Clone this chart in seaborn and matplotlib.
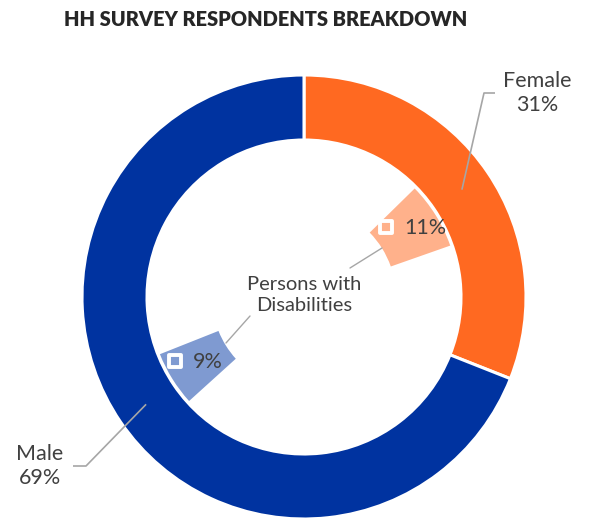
import numpy as np
import matplotlib
matplotlib.use("Agg")
import matplotlib.pyplot as plt
import seaborn as sns

# Respondent shares (outer ring) and persons-with-disabilities shares (inner wedges)
groups = ["Female", "Male"]
group_pct = [31, 69]
pwd_labels = ["11%", "9%"]
pwd_pct = [11, 9]
pwd_gaps = [20, 69, 49]          # unfilled spacing around the inner wedges

title = "HH SURVEY RESPONDENTS BREAKDOWN"
center_label = "Persons with\nDisabilities"

group_colors = ["#FF6921", "#0033A0"]
pwd_colors = ["#FFB18B", "#7F9AD1"]
text_color = "#404040"
line_color = "#A6A6A6"

sns.set_theme(style="white")
plt.rcParams["font.family"] = ["Lato", "DejaVu Sans"]

W, H = 592, 518
fig = plt.figure(figsize=(W / 100, H / 100), dpi=100)
ax = fig.add_axes([0, 0, 1, 1])

cx, cy = 304, H - 297
R = 222
ring_w = 65

# Outer ring
wedges, _ = ax.pie(group_pct, colors=group_colors, startangle=90, counterclock=False,
                   radius=R, center=(cx, cy),
                   wedgeprops=dict(width=ring_w, edgecolor="white", linewidth=2.2))

# Inner wedges: spacing slices are left transparent
inner_vals = [pwd_gaps[0], pwd_pct[0], pwd_gaps[1], pwd_pct[1], pwd_gaps[2]]
inner_cols = ["none", pwd_colors[0], "none", pwd_colors[1], "none"]
r_in_out = 155
r_in_w = 63
iw, _ = ax.pie(inner_vals, colors=inner_cols, startangle=90, counterclock=False,
               radius=r_in_out, center=(cx, cy),
               wedgeprops=dict(width=r_in_w, linewidth=0))

ax.set_xlim(0, W)
ax.set_ylim(0, H)
ax.set_aspect("equal")
ax.axis("off")

def polar(angle_deg, r):
    a = np.deg2rad(angle_deg)
    return cx + r * np.cos(a), cy + r * np.sin(a)

# Outer labels with elbow leader lines
fs = 15.5
mid_f = (wedges[0].theta1 + wedges[0].theta2) / 2
mid_m = (wedges[1].theta1 + wedges[1].theta2) / 2
ex, ey = polar(mid_f, 0.86 * R)
ax.plot([495, 484, ex], [H - 93, H - 93, ey], color=line_color, lw=1.2, solid_capstyle="butt")
ax.text(537, H - 93, f"{groups[0]}\n{group_pct[0]}%", ha="center", va="center",
        fontsize=fs, color=text_color, linespacing=1.25)
ex, ey = polar(mid_m, 0.86 * R)
ax.plot([73, 86, ex], [H - 466, H - 466, ey], color=line_color, lw=1.2, solid_capstyle="butt")
ax.text(40, H - 466, f"{groups[1]}\n{group_pct[1]}%", ha="center", va="center",
        fontsize=fs, color=text_color, linespacing=1.25)

# Centre label
ax.text(cx, cy + 2, center_label, ha="center", va="center", fontsize=fs - 1,
        color=text_color, linespacing=1.3)

# Inner wedge labels with square keys
for w, lab, col, (dx, dy), (l0, l1) in zip(
        [iw[1], iw[3]], pwd_labels, pwd_colors,
        [(-23, 5), (-24, 1)],
        [((382, 248), (350, 268)), ((250, 316), (226, 343))]):
    mid = (w.theta1 + w.theta2) / 2
    mx, my = polar(mid, r_in_out - r_in_w / 2)
    sx, sy = mx + dx, my + dy
    ax.plot([l0[0], l1[0]], [H - l0[1], H - l1[1]], color=line_color, lw=1.0)
    ax.scatter([sx], [sy], marker="s", s=80, facecolor=col, edgecolor="white",
               linewidths=2.8, zorder=5)
    ax.text(sx + 18, sy - 1, lab, ha="left", va="center", fontsize=fs, color=text_color)

fig.text(266 / W, 1 - 19 / H, title, ha="center", va="center", fontsize=14.4,
         fontweight="heavy", color="#262626")

fig.savefig("out.png", dpi=100)
